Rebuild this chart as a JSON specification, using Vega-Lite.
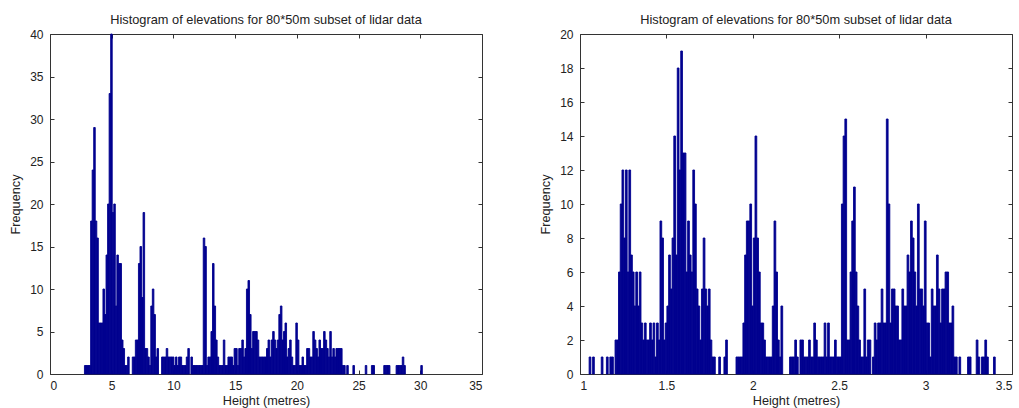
{
  "$schema": "https://vega.github.io/schema/vega-lite/v6.json",
  "padding": {"left": 8, "top": 13, "right": 0, "bottom": 0},
  "background": "white",
  "bounds": "flush",
  "spacing": 98,
  "datasets": {
    "left": [
      {"h":2.75,"n":1},{"h":2.875,"n":1},{"h":3,"n":1},{"h":3.125,"n":1},{"h":3.25,"n":18},{"h":3.375,"n":24},{"h":3.5,"n":29},{"h":3.625,"n":18},{"h":3.75,"n":16},{"h":3.875,"n":6},
      {"h":4,"n":6},{"h":4.125,"n":6},{"h":4.25,"n":10},{"h":4.375,"n":7},{"h":4.5,"n":14},{"h":4.625,"n":20},{"h":4.75,"n":33},{"h":4.875,"n":40},{"h":5,"n":19},{"h":5.125,"n":20},
      {"h":5.25,"n":8},{"h":5.375,"n":14},{"h":5.5,"n":13},{"h":5.625,"n":13},{"h":5.75,"n":4},{"h":5.875,"n":3},{"h":6,"n":1},{"h":6.125,"n":1},{"h":6.25,"n":2},{"h":6.625,"n":2},
      {"h":6.75,"n":2},{"h":6.875,"n":4},{"h":7,"n":4},{"h":7.125,"n":13},{"h":7.25,"n":15},{"h":7.375,"n":9},{"h":7.5,"n":19},{"h":7.625,"n":3},{"h":7.75,"n":3},{"h":7.875,"n":2},
      {"h":8,"n":1},{"h":8.125,"n":8},{"h":8.25,"n":10},{"h":8.375,"n":7},{"h":8.5,"n":2},{"h":8.625,"n":3},{"h":9,"n":2},{"h":9.125,"n":2},{"h":9.25,"n":2},{"h":9.375,"n":3},
      {"h":9.5,"n":2},{"h":9.625,"n":2},{"h":9.75,"n":2},{"h":9.875,"n":2},{"h":10,"n":1},{"h":10.125,"n":2},{"h":10.25,"n":1},{"h":10.375,"n":2},{"h":10.5,"n":2},{"h":10.625,"n":1},
      {"h":10.75,"n":1},{"h":10.875,"n":1},{"h":11,"n":2},{"h":11.125,"n":3},{"h":11.375,"n":2},{"h":11.5,"n":1},{"h":11.625,"n":1},{"h":11.75,"n":1},{"h":11.875,"n":1},{"h":12,"n":1},
      {"h":12.125,"n":1},{"h":12.25,"n":1},{"h":12.375,"n":16},{"h":12.5,"n":15},{"h":12.625,"n":1},{"h":12.75,"n":2},{"h":12.875,"n":2},{"h":13,"n":5},{"h":13.125,"n":13},{"h":13.25,"n":8},
      {"h":13.375,"n":4},{"h":13.5,"n":2},{"h":13.625,"n":1},{"h":13.75,"n":1},{"h":13.875,"n":1},{"h":14,"n":4},{"h":14.125,"n":1},{"h":14.25,"n":1},{"h":14.375,"n":2},{"h":14.5,"n":2},
      {"h":14.625,"n":2},{"h":14.75,"n":1},{"h":14.875,"n":3},{"h":15,"n":3},{"h":15.125,"n":1},{"h":15.25,"n":3},{"h":15.375,"n":3},{"h":15.5,"n":4},{"h":15.625,"n":2},{"h":15.75,"n":3},
      {"h":15.875,"n":10},{"h":16,"n":11},{"h":16.125,"n":7},{"h":16.25,"n":3},{"h":16.375,"n":5},{"h":16.5,"n":5},{"h":16.625,"n":5},{"h":16.75,"n":4},{"h":16.875,"n":2},{"h":17,"n":2},
      {"h":17.125,"n":2},{"h":17.25,"n":2},{"h":17.375,"n":2},{"h":17.5,"n":3},{"h":17.625,"n":4},{"h":17.75,"n":2},{"h":17.875,"n":4},{"h":18,"n":5},{"h":18.125,"n":4},{"h":18.25,"n":3},
      {"h":18.375,"n":4},{"h":18.5,"n":7},{"h":18.625,"n":8},{"h":18.75,"n":4},{"h":18.875,"n":5},{"h":19,"n":6},{"h":19.125,"n":2},{"h":19.25,"n":3},{"h":19.375,"n":4},{"h":19.5,"n":2},
      {"h":19.625,"n":1},{"h":19.75,"n":1},{"h":19.875,"n":6},{"h":20,"n":4},{"h":20.125,"n":1},{"h":20.25,"n":1},{"h":20.375,"n":2},{"h":20.5,"n":1},{"h":20.625,"n":1},{"h":20.75,"n":3},
      {"h":20.875,"n":3},{"h":21,"n":2},{"h":21.125,"n":2},{"h":21.25,"n":5},{"h":21.375,"n":4},{"h":21.5,"n":3},{"h":21.625,"n":2},{"h":21.75,"n":4},{"h":21.875,"n":3},{"h":22,"n":3},
      {"h":22.125,"n":5},{"h":22.25,"n":4},{"h":22.375,"n":3},{"h":22.5,"n":2},{"h":22.625,"n":5},{"h":22.75,"n":2},{"h":22.875,"n":3},{"h":23,"n":2},{"h":23.125,"n":3},{"h":23.25,"n":3},
      {"h":23.375,"n":3},{"h":23.5,"n":3},{"h":23.625,"n":1},{"h":23.75,"n":1},{"h":24,"n":1},{"h":24.5,"n":1},{"h":25.5,"n":1},{"h":26,"n":1},{"h":26.125,"n":1},{"h":27,"n":1},
      {"h":27.125,"n":1},{"h":27.25,"n":1},{"h":27.375,"n":1},{"h":28,"n":1},{"h":28.125,"n":1},{"h":28.25,"n":1},{"h":28.375,"n":1},{"h":28.5,"n":2},{"h":28.625,"n":1},{"h":30,"n":1}
    ],
    "right": [
      {"h":1.05,"n":1},{"h":1.07,"n":1},{"h":1.12,"n":1},{"h":1.15,"n":1},{"h":1.17,"n":1},{"h":1.18,"n":1},
      {"h":1.2,"n":2},{"h":1.21,"n":2},{"h":1.22,"n":6},{"h":1.23,"n":10},{"h":1.24,"n":12},{"h":1.25,"n":8},{"h":1.26,"n":12},{"h":1.27,"n":6},{"h":1.28,"n":12},{"h":1.29,"n":7},
      {"h":1.3,"n":6},{"h":1.31,"n":4},{"h":1.32,"n":6},{"h":1.33,"n":4},{"h":1.34,"n":6},{"h":1.35,"n":3},{"h":1.36,"n":2},{"h":1.37,"n":3},{"h":1.38,"n":2},{"h":1.39,"n":2},
      {"h":1.4,"n":3},{"h":1.41,"n":2},{"h":1.42,"n":3},{"h":1.43,"n":1},{"h":1.44,"n":3},{"h":1.45,"n":2},{"h":1.46,"n":9},{"h":1.47,"n":8},{"h":1.48,"n":2},{"h":1.49,"n":3},
      {"h":1.5,"n":4},{"h":1.51,"n":7},{"h":1.52,"n":5},{"h":1.53,"n":8},{"h":1.54,"n":14},{"h":1.55,"n":7},{"h":1.56,"n":18},{"h":1.57,"n":12},{"h":1.58,"n":19},{"h":1.59,"n":13},
      {"h":1.6,"n":13},{"h":1.61,"n":6},{"h":1.62,"n":9},{"h":1.63,"n":7},{"h":1.64,"n":6},{"h":1.65,"n":12},{"h":1.66,"n":10},{"h":1.67,"n":5},{"h":1.68,"n":4},{"h":1.69,"n":2},
      {"h":1.7,"n":5},{"h":1.71,"n":8},{"h":1.72,"n":5},{"h":1.73,"n":4},{"h":1.74,"n":5},{"h":1.75,"n":2},{"h":1.76,"n":1},{"h":1.77,"n":1},{"h":1.8,"n":1},{"h":1.83,"n":1},
      {"h":1.84,"n":2},{"h":1.9,"n":1},{"h":1.91,"n":1},{"h":1.92,"n":1},{"h":1.93,"n":1},{"h":1.94,"n":3},{"h":1.95,"n":7},{"h":1.96,"n":9},{"h":1.97,"n":9},{"h":1.98,"n":10},
      {"h":1.99,"n":4},{"h":2,"n":8},{"h":2.01,"n":14},{"h":2.02,"n":8},{"h":2.03,"n":6},{"h":2.04,"n":3},{"h":2.05,"n":3},{"h":2.06,"n":2},{"h":2.07,"n":1},{"h":2.08,"n":1},
      {"h":2.09,"n":1},{"h":2.1,"n":1},{"h":2.11,"n":4},{"h":2.12,"n":9},{"h":2.13,"n":6},{"h":2.14,"n":2},{"h":2.15,"n":1},{"h":2.16,"n":4},{"h":2.21,"n":1},{"h":2.22,"n":1},
      {"h":2.23,"n":1},{"h":2.24,"n":2},{"h":2.25,"n":1},{"h":2.27,"n":2},{"h":2.28,"n":2},{"h":2.29,"n":1},{"h":2.3,"n":1},{"h":2.31,"n":1},{"h":2.32,"n":2},{"h":2.33,"n":1},
      {"h":2.34,"n":1},{"h":2.35,"n":3},{"h":2.36,"n":2},{"h":2.37,"n":1},{"h":2.38,"n":1},{"h":2.39,"n":1},{"h":2.4,"n":1},{"h":2.41,"n":3},{"h":2.42,"n":1},{"h":2.43,"n":3},
      {"h":2.44,"n":1},{"h":2.45,"n":1},{"h":2.46,"n":1},{"h":2.47,"n":2},{"h":2.48,"n":1},{"h":2.49,"n":1},{"h":2.5,"n":1},{"h":2.51,"n":10},{"h":2.52,"n":14},{"h":2.53,"n":15},
      {"h":2.54,"n":2},{"h":2.55,"n":2},{"h":2.56,"n":6},{"h":2.57,"n":9},{"h":2.58,"n":11},{"h":2.59,"n":6},{"h":2.6,"n":4},{"h":2.61,"n":2},{"h":2.62,"n":1},{"h":2.63,"n":1},
      {"h":2.64,"n":5},{"h":2.65,"n":1},{"h":2.66,"n":2},{"h":2.67,"n":2},{"h":2.69,"n":1},{"h":2.7,"n":3},{"h":2.71,"n":2},{"h":2.72,"n":3},{"h":2.73,"n":3},{"h":2.74,"n":5},
      {"h":2.75,"n":3},{"h":2.76,"n":3},{"h":2.77,"n":15},{"h":2.78,"n":10},{"h":2.79,"n":3},{"h":2.8,"n":5},{"h":2.81,"n":5},{"h":2.82,"n":4},{"h":2.83,"n":4},{"h":2.84,"n":2},
      {"h":2.85,"n":2},{"h":2.86,"n":5},{"h":2.87,"n":4},{"h":2.88,"n":4},{"h":2.89,"n":7},{"h":2.9,"n":6},{"h":2.91,"n":9},{"h":2.92,"n":8},{"h":2.93,"n":6},{"h":2.94,"n":4},
      {"h":2.95,"n":10},{"h":2.96,"n":5},{"h":2.97,"n":5},{"h":2.98,"n":4},{"h":2.99,"n":9},{"h":3,"n":3},{"h":3.01,"n":3},{"h":3.02,"n":1},{"h":3.03,"n":5},{"h":3.04,"n":4},
      {"h":3.05,"n":4},{"h":3.06,"n":7},{"h":3.07,"n":5},{"h":3.08,"n":3},{"h":3.09,"n":5},{"h":3.1,"n":5},{"h":3.11,"n":6},{"h":3.12,"n":6},{"h":3.13,"n":3},{"h":3.14,"n":3},
      {"h":3.15,"n":4},{"h":3.16,"n":1},{"h":3.17,"n":1},{"h":3.19,"n":1},{"h":3.24,"n":1},{"h":3.25,"n":1},{"h":3.29,"n":2},{"h":3.3,"n":1},{"h":3.32,"n":1},{"h":3.33,"n":1},
      {"h":3.34,"n":2},{"h":3.35,"n":1},{"h":3.39,"n":1}
    ]
  },
  "hconcat": [
    {
      "width": 432,
      "height": 340,
      "data": {"name": "left"},
      "title": "Histogram of elevations for 80*50m subset of lidar data",
      "layer": [
        {
          "mark": {"type": "bar", "color": "#00008F", "stroke": "#00008F", "strokeWidth": 0.9, "binSpacing": 0},
          "encoding": {
            "x": {"field": "h", "type": "quantitative", "bin": {"binned": true, "step": 0.125},
                  "scale": {"domain": [0, 35], "nice": false, "zero": false},
                  "axis": {"title": "Height (metres)", "values": [0,5,10,15,20,25,30,35], "format": "~g", "tickSize": -4, "labelPadding": 10.5, "titlePadding": 3}},
            "y": {"field": "n", "type": "quantitative",
                  "scale": {"domain": [0, 40], "nice": false},
                  "axis": {"title": "Frequency", "values": [0,5,10,15,20,25,30,35,40], "tickSize": -4, "labelPadding": 11, "titlePadding": 7.5}}
          }
        },
        {
          "mark": {"type": "point", "opacity": 0},
          "encoding": {
            "x": {"field": "h", "type": "quantitative", "scale": {"domain": [0, 35], "nice": false, "zero": false},
                  "axis": {"orient": "top", "title": null, "labels": false, "values": [0,5,10,15,20,25,30,35], "tickSize": -4}},
            "y": {"field": "n", "type": "quantitative", "scale": {"domain": [0, 40], "nice": false},
                  "axis": {"orient": "right", "title": null, "labels": false, "values": [0,5,10,15,20,25,30,35,40], "tickSize": -4}}
          }
        }
      ],
      "resolve": {"axis": {"x": "independent", "y": "independent"}}
    },
    {
      "width": 432,
      "height": 340,
      "data": {"name": "right"},
      "title": "Histogram of elevations for 80*50m subset of lidar data",
      "layer": [
        {
          "mark": {"type": "bar", "color": "#00008F", "stroke": "#00008F", "strokeWidth": 0.9, "binSpacing": 0},
          "encoding": {
            "x": {"field": "h", "type": "quantitative", "bin": {"binned": true, "step": 0.01},
                  "scale": {"domain": [1, 3.5], "nice": false, "zero": false},
                  "axis": {"title": "Height (metres)", "values": [1,1.5,2,2.5,3,3.5], "format": "~g", "tickSize": -4, "labelPadding": 10.5, "titlePadding": 3}},
            "y": {"field": "n", "type": "quantitative",
                  "scale": {"domain": [0, 20], "nice": false},
                  "axis": {"title": "Frequency", "values": [0,2,4,6,8,10,12,14,16,18,20], "tickSize": -4, "labelPadding": 11, "titlePadding": 7.5}}
          }
        },
        {
          "mark": {"type": "point", "opacity": 0},
          "encoding": {
            "x": {"field": "h", "type": "quantitative", "scale": {"domain": [1, 3.5], "nice": false, "zero": false},
                  "axis": {"orient": "top", "title": null, "labels": false, "values": [1,1.5,2,2.5,3,3.5], "tickSize": -4}},
            "y": {"field": "n", "type": "quantitative", "scale": {"domain": [0, 20], "nice": false},
                  "axis": {"orient": "right", "title": null, "labels": false, "values": [0,2,4,6,8,10,12,14,16,18,20], "tickSize": -4}}
          }
        }
      ],
      "resolve": {"axis": {"x": "independent", "y": "independent"}}
    }
  ],
  "config": {
    "font": "Liberation Sans",
    "bar": {"binSpacing": 0},
    "view": {"stroke": "#333333", "strokeWidth": 1},
    "axis": {
      "grid": false,
      "domain": false,
      "tickColor": "#333333",
      "tickWidth": 1,
      "labelColor": "#222222",
      "titleColor": "#222222",
      "labelFont": "Liberation Sans",
      "titleFont": "Liberation Sans",
      "labelFontSize": 12,
      "titleFontSize": 12.7,
      "titleFontWeight": "normal"
    },
    "title": {
      "font": "Liberation Sans",
      "fontSize": 12.8,
      "fontWeight": "normal",
      "color": "#222222",
      "baseline": "alphabetic",
      "offset": 1,
      "anchor": "middle"
    }
  }
}
